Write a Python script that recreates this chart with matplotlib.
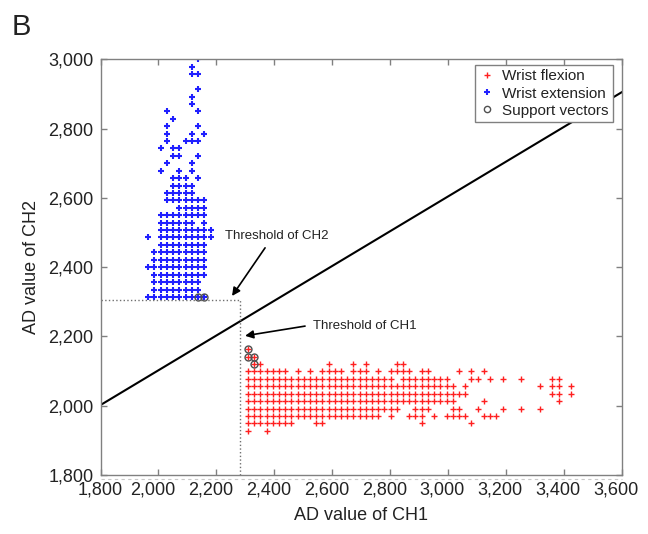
import matplotlib as mpl
mpl.use('Agg')

import matplotlib.pyplot as plt
from matplotlib.transforms import ScaledTranslation

plt.rcParams['font.family'] = ['Liberation Sans', 'DejaVu Sans']

# ========================================================================================
# wrist extension samples, one row per AD level of CH2

ext_rows_y = [2314, 2335, 2357, 2378, 2400, 2421, 2443, 2464, 2486, 2507, 2528,
              2550, 2571, 2593, 2614, 2636, 2657, 2678, 2700, 2721, 2743, 2764,
              2786, 2807, 2829, 2850, 2871, 2893, 2914, 2957, 2979, 3000]

ext_rows_x = [
    [1965, 1986, 2008, 2029, 2051, 2072, 2094, 2115, 2137, 2158],
    [1986, 2008, 2029, 2051, 2072, 2094, 2115, 2137],
    [1986, 2008, 2029, 2051, 2072, 2094, 2115, 2137],
    [1986, 2008, 2029, 2051, 2072, 2094, 2115, 2137, 2158],
    [1965, 1986, 2008, 2029, 2051, 2072, 2094, 2115, 2137, 2158],
    [1986, 2008, 2029, 2051, 2072, 2094, 2115, 2137, 2158],
    [1986, 2008, 2029, 2051, 2072, 2094, 2115, 2137, 2158],
    [2008, 2029, 2051, 2072, 2094, 2115, 2137, 2158],
    [1965, 2008, 2029, 2051, 2072, 2094, 2115, 2137, 2158, 2180],
    [2008, 2029, 2051, 2072, 2094, 2115, 2137, 2158, 2180],
    [2008, 2029, 2051, 2072, 2094, 2115, 2158],
    [2008, 2029, 2051, 2072, 2094, 2115, 2137, 2158],
    [2072, 2094, 2115, 2137, 2158],
    [2029, 2051, 2072, 2094, 2115, 2137, 2158],
    [2029, 2051, 2072, 2094, 2115],
    [2051, 2072, 2094, 2115],
    [2051, 2072, 2094, 2137],
    [2008, 2072, 2115],
    [2029, 2115],
    [2051, 2072, 2137],
    [2008, 2051, 2072],
    [2029, 2094, 2115, 2137],
    [2029, 2115, 2158],
    [2029, 2137],
    [2051],
    [2029, 2137],
    [2115],
    [2115],
    [2137],
    [2115, 2137],
    [2115],
    [2137],
]

# wrist flexion samples, one row per AD level of CH2

flex_rows_y = [2164, 2142, 2121, 2100, 2078, 2057, 2035, 2014, 1992, 1971, 1949, 1928]

flex_rows_x = [
    [2308],
    [2308, 2330],
    [2330, 2351, 2587, 2673, 2716, 2823, 2844],
    [2308, 2330, 2351, 2373, 2394, 2415, 2437, 2480, 2523, 2566, 2587, 2609, 2630,
     2673, 2694, 2716, 2759, 2802, 2823, 2844, 2866, 2909, 2930, 3038, 3080, 3123],
    [2308, 2330, 2351, 2373, 2394, 2415, 2437, 2458, 2480, 2501, 2523, 2544, 2566,
     2587, 2609, 2630, 2651, 2673, 2694, 2716, 2737, 2759, 2780, 2802, 2844, 2866,
     2887, 2909, 2930, 2952, 2973, 2995, 3080, 3102, 3145, 3188, 3252, 3360, 3381],
    [2308, 2330, 2351, 2373, 2394, 2415, 2437, 2458, 2480, 2501, 2523, 2544, 2566,
     2587, 2609, 2630, 2651, 2673, 2694, 2716, 2737, 2759, 2780, 2802, 2823, 2844,
     2866, 2887, 2909, 2930, 2952, 2973, 2995, 3016, 3059, 3317, 3360, 3381, 3424],
    [2308, 2330, 2351, 2373, 2394, 2415, 2437, 2458, 2480, 2501, 2523, 2544, 2566,
     2587, 2609, 2630, 2651, 2673, 2694, 2716, 2737, 2759, 2780, 2802, 2823, 2844,
     2866, 2887, 2909, 2930, 2952, 2973, 2995, 3016, 3038, 3059, 3360, 3381, 3424],
    [2308, 2330, 2351, 2373, 2394, 2415, 2437, 2458, 2480, 2501, 2523, 2544, 2566,
     2587, 2609, 2630, 2651, 2673, 2694, 2716, 2737, 2759, 2780, 2802, 2823, 2844,
     2866, 2887, 2909, 2930, 2952, 2973, 2995, 3016, 3123, 3381],
    [2308, 2330, 2351, 2373, 2394, 2415, 2437, 2458, 2480, 2501, 2523, 2544, 2566,
     2587, 2609, 2630, 2651, 2673, 2694, 2716, 2737, 2759, 2780, 2802, 2823, 2887,
     2909, 2930, 3016, 3038, 3102, 3188, 3252, 3317],
    [2308, 2330, 2351, 2373, 2394, 2415, 2437, 2458, 2480, 2501, 2523, 2544, 2566,
     2587, 2609, 2630, 2651, 2673, 2694, 2716, 2737, 2759, 2802, 2866, 2887, 2909,
     2952, 2995, 3016, 3038, 3059, 3123, 3145, 3166],
    [2308, 2330, 2351, 2373, 2394, 2415, 2437, 2458, 2544, 2566, 2909, 3080],
    [2308, 2373],
]

# support vectors of the linear SVM
sv_x = [2137, 2158, 2308, 2308, 2330, 2330]
sv_y = [2314, 2314, 2164, 2142, 2142, 2121]

# separating line and the two channel thresholds
boundary_x = [1800, 3600]
boundary_y = [2002, 2906]
threshold_ch1 = 2282
threshold_ch2 = 2305

x_ticks = [1800, 2000, 2200, 2400, 2600, 2800, 3000, 3200, 3400, 3600]
y_ticks = [1800, 2000, 2200, 2400, 2600, 2800, 3000]

# ========================================================================================

def flatten(rows_y, rows_x):
    xs, ys = [], []
    for y, row in zip(rows_y, rows_x):
        xs += row
        ys += [y] * len(row)
    return xs, ys

ext_x, ext_y = flatten(ext_rows_y, ext_rows_x)
flex_x, flex_y = flatten(flex_rows_y, flex_rows_x)

grey = '#808080'
ink = '#222222'

fig = plt.figure(figsize=(6.48, 5.34), dpi=100)
ax = fig.add_axes([0.1551, 0.1105, 0.8048, 0.7781])

ax.plot(flex_x, flex_y, '+', color='#ff2020', ms=5, mew=1.0, ls='none', label='Wrist flexion')
ax.plot(ext_x, ext_y, '+', color='#2020ff', ms=5, mew=1.5, ls='none', label='Wrist extension')
ax.plot(sv_x, sv_y, 'o', mfc='none', mec='#505050', ms=5, mew=1.0, ls='none',
        label='Support vectors')

ax.plot(boundary_x, boundary_y, color='black', lw=1.5)

ax.plot([1800, threshold_ch1], [threshold_ch2, threshold_ch2], ':', color='#707070', lw=1)
ax.plot([threshold_ch1, threshold_ch1], [1800, threshold_ch2], ':', color='#707070', lw=1)

# threshold labels with arrows
arrow = dict(arrowstyle='-|>', color='black', lw=1.2, mutation_scale=12, shrinkA=0, shrinkB=0)
ax.text(2230, 2490, 'Threshold of CH2', fontsize=9.5, color=ink, va='center')
ax.annotate('', xy=(2254, 2317), xytext=(2368, 2456), arrowprops=arrow)
ax.text(2534, 2230, 'Threshold of CH1', fontsize=9.5, color=ink, va='center')
ax.annotate('', xy=(2299, 2202), xytext=(2506, 2230), arrowprops=arrow)

ax.set_xlim(1800, 3600)
ax.set_ylim(1800, 3000)
ax.set_xticks(x_ticks, ['{:,}'.format(v) for v in x_ticks])
ax.set_yticks(y_ticks, ['{:,}'.format(v) for v in y_ticks])
ax.tick_params(direction='in', top=True, right=True, length=4, width=1, color=grey,
               labelsize=13, labelcolor=ink)
ax.tick_params(axis='y', pad=5)
ax.tick_params(axis='x', pad=5)
for spine in ax.spines.values():
    spine.set_color(grey)
    spine.set_linewidth(1)

# tick labels after the first sit a little to the left
shift = ScaledTranslation(-0.06, 0, fig.dpi_scale_trans)
for lbl in ax.get_xticklabels()[1:]:
    lbl.set_transform(lbl.get_transform() + shift)

# faint dashed rule under the bottom axis
ax.plot([0, 1], [-0.01, -0.01], transform=ax.transAxes, clip_on=False,
        ls=(0, (3, 3)), color='#c8c8c8', lw=0.8)

ax.set_xlabel('AD value of CH1', fontsize=13, color=ink, labelpad=6)
ax.set_ylabel('AD value of CH2', fontsize=13, color=ink, labelpad=6)

leg = ax.legend(loc='upper right', bbox_to_anchor=(0.983, 0.987), borderaxespad=0,
                fontsize=11, handlelength=1.0, handletextpad=0.5, labelspacing=0.2,
                fancybox=False, framealpha=1, edgecolor=grey, borderpad=0.3,
                markerscale=0.9)
leg.get_frame().set_linewidth(1)
for t in leg.get_texts():
    t.set_color(ink)

fig.text(0.018, 0.975, 'B', fontsize=21, color=ink, va='top')

plt.savefig('out.png')
